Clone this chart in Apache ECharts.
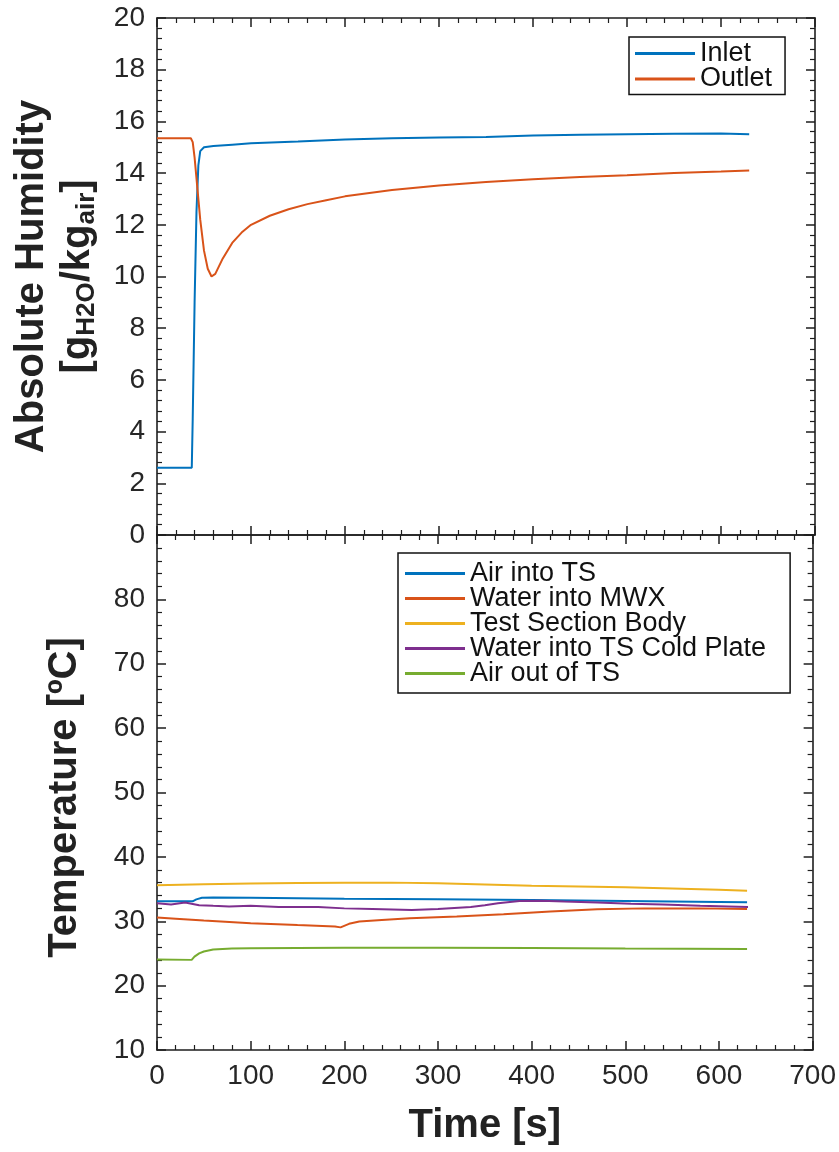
<!DOCTYPE html>
<html><head><meta charset="utf-8">
<script src="https://cdn.jsdelivr.net/npm/echarts@6/dist/echarts.min.js"></script>
<style>html,body{margin:0;padding:0;background:#fff}#c{width:839px;height:1152px}</style>
</head><body><div id="c"></div>
<script>
// ---- Top panel: absolute humidity ----
const inletT  = [0, 37, 38, 40, 42, 44, 46, 50, 60, 80, 100, 150, 200, 250, 300, 350, 400, 450, 500, 550, 600, 630];
const inletV  = [2.6, 2.6, 4.5, 9.0, 12.5, 14.3, 14.85, 15.0, 15.05, 15.1, 15.15, 15.22, 15.3, 15.35, 15.38, 15.4, 15.45, 15.48, 15.5, 15.52, 15.53, 15.5];
const outletT = [0, 36, 38, 40, 43, 46, 50, 54, 58, 62, 66, 70, 80, 90, 100, 120, 140, 160, 180, 200, 250, 300, 350, 400, 450, 500, 550, 600, 630];
const outletV = [15.35, 15.35, 15.2, 14.6, 13.4, 12.2, 11.0, 10.3, 10.0, 10.1, 10.4, 10.7, 11.3, 11.7, 12.0, 12.35, 12.6, 12.8, 12.95, 13.1, 13.35, 13.52, 13.66, 13.76, 13.85, 13.92, 14.0, 14.06, 14.1];

// ---- Bottom panel: temperatures ----
const airInT  = [0, 38, 42, 48, 60, 100, 200, 300, 400, 500, 600, 630];
const airInV  = [33.1, 33.1, 33.4, 33.65, 33.7, 33.65, 33.5, 33.4, 33.3, 33.15, 33.0, 32.95];
const mwxT    = [0, 20, 50, 100, 150, 190, 196, 205, 216, 240, 270, 320, 370, 420, 470, 520, 580, 630];
const mwxV    = [30.6, 30.4, 30.1, 29.7, 29.4, 29.2, 29.05, 29.6, 29.95, 30.2, 30.45, 30.75, 31.1, 31.5, 31.85, 32.0, 32.0, 31.9];
const bodyT   = [0, 50, 100, 150, 200, 250, 300, 350, 400, 450, 500, 550, 600, 630];
const bodyV   = [35.6, 35.75, 35.85, 35.95, 36.0, 36.0, 35.9, 35.7, 35.5, 35.4, 35.3, 35.1, 34.9, 34.75];
const coldT   = [0, 15, 30, 45, 60, 77, 100, 130, 172, 200, 230, 272, 300, 335, 350, 364, 387, 410, 435, 470, 506, 540, 580, 610, 631];
const coldV   = [32.8, 32.6, 32.9, 32.5, 32.4, 32.3, 32.4, 32.2, 32.2, 32.0, 31.9, 31.75, 31.9, 32.2, 32.5, 32.8, 33.15, 33.2, 33.05, 32.9, 32.7, 32.6, 32.4, 32.3, 32.2];
const airOutT = [0, 37, 40, 45, 50, 60, 80, 100, 200, 300, 400, 500, 630];
const airOutV = [24.05, 24.0, 24.5, 25.0, 25.3, 25.6, 25.75, 25.8, 25.9, 25.9, 25.85, 25.75, 25.7];

const topNames = ['Inlet', 'Outlet'];
const botNames = ['Air into TS', 'Water into MWX', 'Test Section Body', 'Water into TS Cold Plate', 'Air out of TS'];
const colors = ['#0072BD', '#D95319', '#EDB120', '#7E2F8E', '#77AC30'];

const FONT = '"Liberation Sans", Arial, Helvetica, sans-serif';
const AX = '#1e1e1e';
const pair = (t, v) => t.map((x, i) => [x, v[i]]);

function xAx(grid, pos, showLabel, name) {
  return {
    type: 'value', gridIndex: grid, position: pos, min: 0, max: 700, interval: 100,
    axisLine: { show: true, onZero: false, lineStyle: { color: AX, width: 1.6 } },
    axisTick: { show: true, inside: true, length: 9, lineStyle: { color: AX, width: 1.5 } },
    minorTick: { show: true, splitNumber: 5, length: 5, lineStyle: { color: AX, width: 1.2 } },
    splitLine: { show: false },
    axisLabel: { show: showLabel, color: '#262626', fontSize: 28, fontFamily: FONT, margin: 12 },
    name: name || '', nameLocation: 'middle', nameGap: 56,
    nameTextStyle: { fontSize: 40, fontWeight: 'bold', fontFamily: FONT, color: '#222' }
  };
}
function yAx(grid, pos, min, max, interval, showLabel, extra) {
  return Object.assign({
    type: 'value', gridIndex: grid, position: pos, min: min, max: max, interval: interval,
    axisLine: { show: true, onZero: false, lineStyle: { color: AX, width: 1.6 } },
    axisTick: { show: true, inside: true, length: 9, lineStyle: { color: AX, width: 1.5 } },
    minorTick: { show: true, splitNumber: 5, length: 5, lineStyle: { color: AX, width: 1.2 } },
    splitLine: { show: false },
    axisLabel: { show: showLabel, color: '#262626', fontSize: 28, fontFamily: FONT, margin: 12,
      formatter: v => (grid === 1 && v === 90) ? '' : String(v) }
  }, extra || {});
}

const legendCommon = {
  orient: 'vertical', icon: 'rect', itemWidth: 60, itemHeight: 3,
  borderColor: '#111', borderWidth: 1.5, backgroundColor: '#fff', borderRadius: 0,
  textStyle: { fontSize: 27, fontFamily: FONT, color: '#111' }
};

const option = {
  animation: false,
  backgroundColor: '#fff',
  color: colors,
  grid: [
    { left: 157, top: 18, width: 658, height: 517 },
    { left: 157, top: 535, width: 658, height: 515 }
  ],
  xAxis: [
    xAx(0, 'bottom', false), xAx(0, 'top', false),
    xAx(1, 'bottom', true, 'Time [s]'), xAx(1, 'top', false)
  ],
  yAxis: [
    yAx(0, 'left', 0, 20, 2, true, {
      name: '{a|Absolute Humidity}\n{a|[g}{s|H2O}{a|/kg}{s|air}{a|]}',
      nameLocation: 'middle', nameRotate: 90, nameGap: 56,
      nameTextStyle: { fontFamily: FONT, fontWeight: 'bold', color: '#222', fontSize: 40, lineHeight: 46,
        rich: {
          a: { fontSize: 40, fontWeight: 'bold', fontFamily: FONT, color: '#222', lineHeight: 46 },
          s: { fontSize: 26, fontWeight: 'bold', fontFamily: FONT, color: '#222', padding: [17, 0, 0, 0] }
        } }
    }),
    yAx(0, 'right', 0, 20, 2, false),
    yAx(1, 'left', 10, 90, 10, true, {
      name: 'Temperature [ºC]', nameLocation: 'middle', nameRotate: 90, nameGap: 72,
      nameTextStyle: { fontFamily: FONT, fontWeight: 'bold', color: '#222', fontSize: 40, padding: [0, 10, 0, 0] }
    }),
    yAx(1, 'right', 10, 90, 10, false)
  ],
  legend: [
    Object.assign({}, legendCommon, { data: topNames, left: 629, top: 37, itemGap: -1.5, padding: [3, 13, 2, 6],
      textStyle: Object.assign({}, legendCommon.textStyle, { lineHeight: 25 }) }),
    Object.assign({}, legendCommon, { data: botNames, left: 398, top: 553, itemGap: -2, padding: [7, 24, 6, 7],
      textStyle: Object.assign({}, legendCommon.textStyle, { lineHeight: 25 }) })
  ],
  series: [
    { name: 'Inlet', data: pair(inletT, inletV), color: colors[0], xAxisIndex: 0, yAxisIndex: 0 },
    { name: 'Outlet', data: pair(outletT, outletV), color: colors[1], xAxisIndex: 0, yAxisIndex: 0 },
    { name: 'Air into TS', data: pair(airInT, airInV), color: colors[0], xAxisIndex: 2, yAxisIndex: 2 },
    { name: 'Water into MWX', data: pair(mwxT, mwxV), color: colors[1], xAxisIndex: 2, yAxisIndex: 2 },
    { name: 'Test Section Body', data: pair(bodyT, bodyV), color: colors[2], xAxisIndex: 2, yAxisIndex: 2 },
    { name: 'Water into TS Cold Plate', data: pair(coldT, coldV), color: colors[3], xAxisIndex: 2, yAxisIndex: 2 },
    { name: 'Air out of TS', data: pair(airOutT, airOutV), color: colors[4], xAxisIndex: 2, yAxisIndex: 2 }
  ].map(s => Object.assign({ type: 'line', showSymbol: false, symbol: 'none',
    lineStyle: { width: 2, color: s.color }, itemStyle: { color: s.color } }, s))
};

const chart = echarts.init(document.getElementById('c'), null, { renderer: 'canvas' });
chart.setOption(option);
</script>
</body></html>
